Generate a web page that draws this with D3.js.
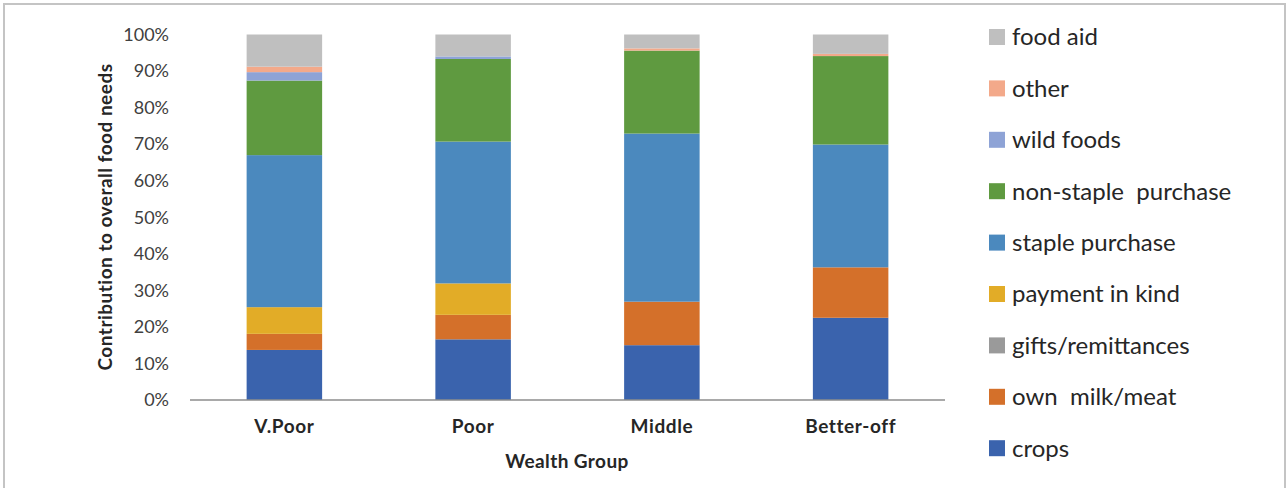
<!DOCTYPE html>
<html><head><meta charset="utf-8">
<script src="https://cdn.jsdelivr.net/npm/d3@7"></script>
<style>body{margin:0;background:#fff;}svg{display:block;font-family:Lato,"Noto Sans",sans-serif;}</style>
</head><body>
<script>
const categories = ["V.Poor", "Poor", "Middle", "Better-off"];
const seriesNames = ["crops", "own  milk/meat", "gifts/remittances", "payment in kind", "staple purchase", "non-staple  purchase", "wild foods", "other", "food aid"];
const seriesColors = ["#3a63ad", "#d4702a", "#9a9a9a", "#e2ac27", "#4b89be", "#5f9a40", "#8ea3d6", "#f3a98a", "#bfbfbf"];
const crops = [13.7, 16.6, 15.0, 22.5];
const ownMilkMeat = [4.4, 6.7, 11.9, 13.8];
const gifts = [0, 0, 0, 0];
const paymentInKind = [7.3, 8.6, 0, 0];
const staplePurchase = [41.6, 38.8, 46.0, 33.6];
const nonStaplePurchase = [20.4, 22.6, 22.7, 24.2];
const wildFoods = [2.3, 0.7, 0, 0];
const other = [1.5, 0, 0.6, 0.6];
const foodAid = [8.8, 6.0, 3.8, 5.3];
const yTicks = [0, 10, 20, 30, 40, 50, 60, 70, 80, 90, 100];

const values = [crops, ownMilkMeat, gifts, paymentInKind, staplePurchase, nonStaplePurchase, wildFoods, other, foodAid];
const rows = categories.map((c, i) => {
  const r = {cat: c};
  seriesNames.forEach((s, j) => r[s] = values[j][i]);
  return r;
});

const W = 1287, H = 488;
const svg = d3.select("body").append("svg").attr("width", W).attr("height", H);
svg.append("rect").attr("x", 4).attr("y", 4).attr("width", W - 6).attr("height", H + 10)
  .attr("fill", "none").attr("stroke", "#c4c4c4").attr("stroke-width", 2);

const x = d3.scaleBand().domain(categories).range([190, 945]).paddingInner(0.6).paddingOuter(0.3);
const y = d3.scaleLinear().domain([0, 100]).range([400, 34.5]);

const stack = d3.stack().keys(seriesNames);
const stacked = stack(rows);

svg.append("g").selectAll("g").data(stacked).join("g")
  .attr("fill", (d, i) => seriesColors[i])
  .selectAll("rect").data(d => d).join("rect")
  .attr("x", d => x(d.data.cat))
  .attr("width", x.bandwidth())
  .attr("y", d => y(d[1]))
  .attr("height", d => Math.max(0, y(d[0]) - y(d[1])));

// y axis
const yAxis = svg.append("g").attr("transform", "translate(169,0)")
  .call(d3.axisLeft(y).tickValues(yTicks).tickFormat(d => d + "%").tickSize(0).tickPadding(0));
yAxis.select(".domain").remove();
yAxis.selectAll("text").attr("font-size", 18).attr("fill", "#404040").attr("font-family", "Lato, sans-serif");

// x axis
const xAxis = svg.append("g").attr("transform", "translate(0,400)")
  .call(d3.axisBottom(x).tickSize(0).tickPadding(20));
xAxis.select(".domain").remove();
xAxis.selectAll("text").attr("font-size", 19).attr("font-weight", "bold").attr("fill", "#262626")
  .attr("letter-spacing", 0.6).attr("font-family", "Lato, sans-serif");
svg.append("line").attr("x1", 190).attr("x2", 945).attr("y1", 400).attr("y2", 400)
  .attr("stroke", "#8c8c8c").attr("stroke-width", 1.5);

svg.append("text").attr("x", 567).attr("y", 468).attr("text-anchor", "middle")
  .attr("font-size", 19).attr("font-weight", "bold").attr("letter-spacing", 0.4).attr("fill", "#262626").text("Wealth Group");
svg.append("text").attr("transform", "translate(112,217) rotate(-90)").attr("text-anchor", "middle")
  .attr("font-size", 19).attr("font-weight", "bold").attr("letter-spacing", 0.5).attr("fill", "#262626").text("Contribution to overall food needs");

// legend
const legendOrder = seriesNames.map((s, i) => i).reverse();
const lg = svg.append("g");
legendOrder.forEach((si, k) => {
  const cy = 37 + k * 51.4;
  lg.append("rect").attr("x", 989).attr("y", cy - 8).attr("width", 16).attr("height", 16).attr("fill", seriesColors[si]);
  lg.append("text").attr("x", 1012).attr("y", cy).attr("dy", "0.35em")
    .attr("font-size", 24).attr("fill", "#262626").style("white-space", "pre").text(seriesNames[si]);
});
</script>
</body></html>
